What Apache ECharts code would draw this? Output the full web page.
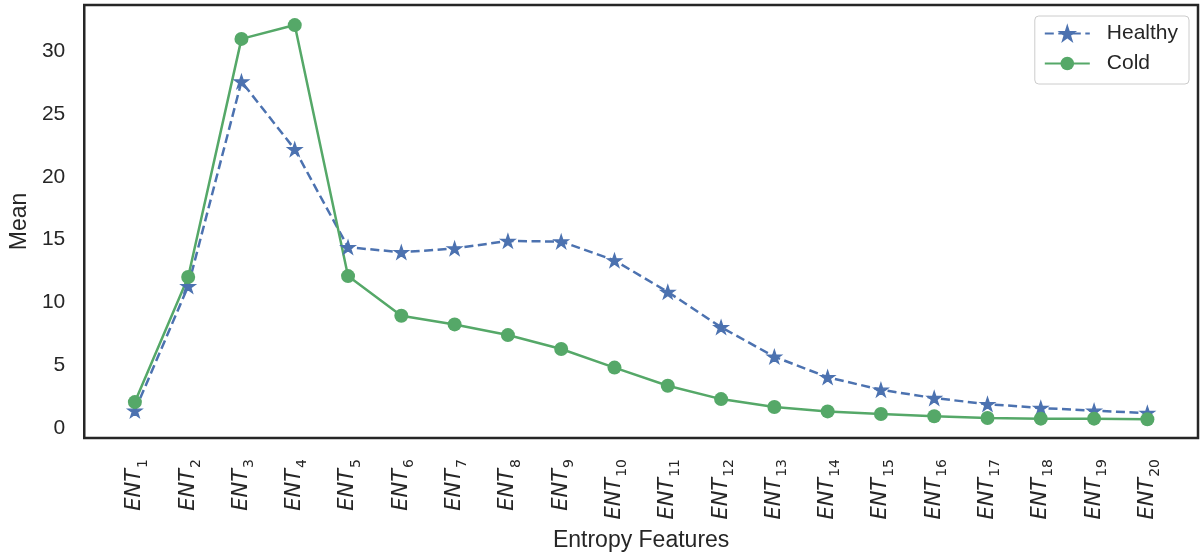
<!DOCTYPE html>
<html>
<head>
<meta charset="utf-8">
<script src="https://cdn.jsdelivr.net/npm/echarts@6/dist/echarts.min.js"></script>
<style>
html,body{margin:0;padding:0;background:#fff;}
#chart{width:1204px;height:557px;}
</style>
</head>
<body>
<div id="chart"></div>
<script>
const categories = ['1','2','3','4','5','6','7','8','9','10','11','12','13','14','15','16','17','18','19','20'];
const healthy = [1.37, 11.3, 27.6, 22.2, 14.4, 14.0, 14.3, 14.9, 14.85, 13.35, 10.84, 8.03, 5.68, 4.04, 3.04, 2.38, 1.90, 1.59, 1.37, 1.19];
const cold = [2.06, 12.03, 31.0, 32.1, 12.1, 8.94, 8.25, 7.4, 6.29, 4.81, 3.36, 2.30, 1.67, 1.32, 1.11, 0.93, 0.79, 0.74, 0.74, 0.69];
const yTicks = [0, 5, 10, 15, 20, 25, 30];
const xTicks = categories.map((c, i) => i + 1);

const star = 'path://M50,0 L61.8,36.2 L100,36.2 L69.1,58.6 L80.9,95 L50,72.6 L19.1,95 L30.9,58.6 L0,36.2 L38.2,36.2 Z';
const txt = '#262626';
const chart = echarts.init(document.getElementById('chart'), null, {renderer: 'canvas'});
chart.setOption({
  animation: false,
  backgroundColor: '#ffffff',
  grid: {left: 81, right: 6, top: 5, bottom: 117, show: true, borderColor: '#262626', borderWidth: 2.5, containLabel: false},
  legend: {
    orient: 'vertical', right: 15, top: 16,
    padding: [5, 11, 8, 9],
    itemGap: 5, itemWidth: 45, itemHeight: 17,
    backgroundColor: 'rgba(255,255,255,0.85)', borderColor: '#cccccc', borderWidth: 1, borderRadius: 4,
    textStyle: {fontFamily: 'Liberation Sans', fontSize: 21, color: txt, lineHeight: 25, padding: [0, 0, 0, 12]},
    data: ['Healthy', 'Cold']
  },
  xAxis: {
    type: 'value', min: 0.05, max: 20.95,
    name: 'Entropy Features', nameLocation: 'middle', nameGap: 91,
    nameTextStyle: {fontFamily: 'Liberation Sans', fontSize: 23, color: txt},
    axisLine: {show: false}, axisTick: {show: false}, splitLine: {show: false},
    axisLabel: {
      customValues: xTicks, rotate: 90, margin: 21, color: txt,
      formatter: function (v) { return '{i|ENT}{s|' + categories[Math.round(v) - 1] + '}'; },
      rich: {
        i: {fontFamily: 'DejaVu Sans', fontStyle: 'italic', fontSize: 21, color: txt},
        s: {fontFamily: 'DejaVu Sans', fontSize: 14, color: txt, padding: [16, 0, 0, 1]}
      }
    }
  },
  yAxis: {
    type: 'value', min: -0.8, max: 33.7,
    name: 'Mean', nameLocation: 'middle', nameGap: 50, nameRotate: 90,
    nameTextStyle: {fontFamily: 'Liberation Sans', fontSize: 23, color: txt},
    axisLine: {show: false}, axisTick: {show: false}, splitLine: {show: false},
    axisLabel: {customValues: yTicks, margin: 19, fontFamily: 'Liberation Sans', fontSize: 21, color: txt}
  },
  series: [
    {
      name: 'Healthy', type: 'line',
      data: healthy.map((v, i) => [i + 1, v]),
      symbol: star, symbolSize: 14, symbolKeepAspect: true,
      itemStyle: {color: '#4c72b0', borderColor: '#4c72b0', borderWidth: 1.3},
      lineStyle: {color: '#4c72b0', width: 2.5, type: [9, 4.5]}
    },
    {
      name: 'Cold', type: 'line',
      data: cold.map((v, i) => [i + 1, v]),
      symbol: 'circle', symbolSize: 14,
      itemStyle: {color: '#55a868'},
      lineStyle: {color: '#55a868', width: 2.5}
    }
  ]
});
</script>
</body>
</html>
